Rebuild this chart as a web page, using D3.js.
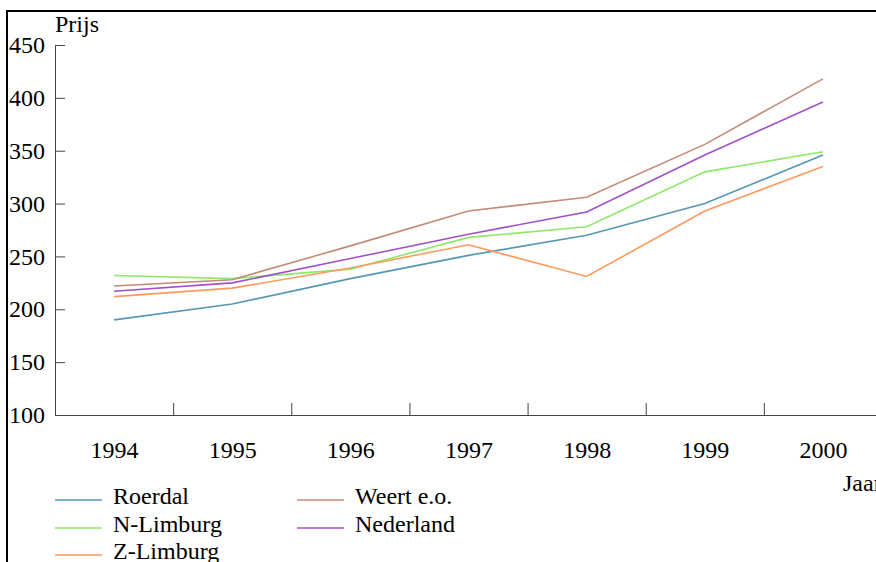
<!DOCTYPE html>
<html>
<head>
<meta charset="utf-8">
<script src="https://cdn.jsdelivr.net/npm/d3@7"></script>
<style>
  html, body { margin: 0; padding: 0; background: #fff; overflow: hidden; }
  svg { display: block; }
  svg text { font-family: "Liberation Serif", "Times New Roman", Tinos, "Nimbus Roman", "Noto Serif", "DejaVu Serif", Georgia, serif !important; fill: #000; }
</style>
</head>
<body>
<svg id="chart" width="876" height="562"></svg>
<script>
const years = [1994, 1995, 1996, 1997, 1998, 1999, 2000];
const yTicks = [100, 150, 200, 250, 300, 350, 400, 450];
const roerdal   = [190, 205, 229, 251, 270, 300, 346];
const nLimburg  = [232, 229, 238, 268, 278, 330, 349];
const zLimburg  = [212, 220, 239, 261, 231, 293, 335];
const weert     = [222, 228, 260, 293, 306, 356, 418];
const nederland = [217, 225, 248, 271, 292, 346, 396];
const seriesNames = ["Roerdal", "N-Limburg", "Z-Limburg", "Weert e.o.", "Nederland"];
const seriesColors = ["#5597b4", "#8ee86a", "#ff9a5c", "#c48a78", "#a050c8"];
const seriesValues = [roerdal, nLimburg, zLimburg, weert, nederland];
const yLabel = "Prijs";
const xLabel = "Jaar";

const FONT = '"Liberation Serif", "Times New Roman", Tinos, "Nimbus Roman", "Noto Serif", "DejaVu Serif", Georgia, serif';
const svg = d3.select("#chart");

// frame
svg.append("rect").attr("x", 7).attr("y", 11).attr("width", 920).attr("height", 620)
  .attr("fill", "none").attr("stroke", "#000").attr("stroke-width", 2);

const x = d3.scaleLinear().domain([1993.5, 2000.5]).range([55, 882]);
const y = d3.scaleLinear().domain([100, 450]).range([415, 45]);

// y axis
const gy = svg.append("g").attr("transform", "translate(55,0)")
  .call(d3.axisLeft(y).tickValues(yTicks).tickSizeInner(-10).tickSizeOuter(0).tickPadding(10));
gy.attr("font-family", FONT).attr("font-size", 24);
gy.selectAll("text").style("font-size", "24px").attr("fill", "#000");
gy.selectAll("path, line").attr("stroke", "#444");

// x axis (boundary ticks pointing up)
const boundaries = years.slice(0, -1).map(d => d + 0.5);
const gx = svg.append("g").attr("transform", "translate(0,415)")
  .call(d3.axisBottom(x).tickValues(boundaries).tickFormat("").tickSizeInner(-12).tickSizeOuter(0));
gx.selectAll("path, line").attr("stroke", "#444");

// x labels
const gxl = svg.append("g").attr("transform", "translate(0,415)")
  .call(d3.axisBottom(x).tickValues(years).tickFormat(d3.format("d")).tickSize(0).tickPadding(26));
gxl.attr("font-family", FONT).attr("font-size", 24);
gxl.select(".domain").remove();
gxl.selectAll("text").style("font-size", "24px").attr("fill", "#000");

svg.append("text").attr("x", 55).attr("y", 32).style("font-size", "24px").text(yLabel);
svg.append("text").attr("x", 843).attr("y", 491).style("font-size", "24px").text(xLabel);

// lines
const line = d3.line().x((d, i) => x(years[i])).y(d => y(d));
seriesValues.forEach((vals, i) => {
  svg.append("path").datum(vals).attr("d", line)
    .attr("fill", "none").attr("stroke", seriesColors[i]).attr("stroke-width", 1.6);
});

// legend
const legendPos = [[55, 500], [55, 528], [55, 555], [297, 500], [297, 528]];
seriesNames.forEach((name, i) => {
  const [lx, ly] = legendPos[i];
  svg.append("line").attr("x1", lx).attr("x2", lx + 47).attr("y1", ly).attr("y2", ly)
    .attr("stroke", seriesColors[i]).attr("stroke-width", 1.6);
  svg.append("text").attr("x", lx + 58).attr("y", ly + 4).style("font-size", "24px").text(name);
});
</script>
</body>
</html>
